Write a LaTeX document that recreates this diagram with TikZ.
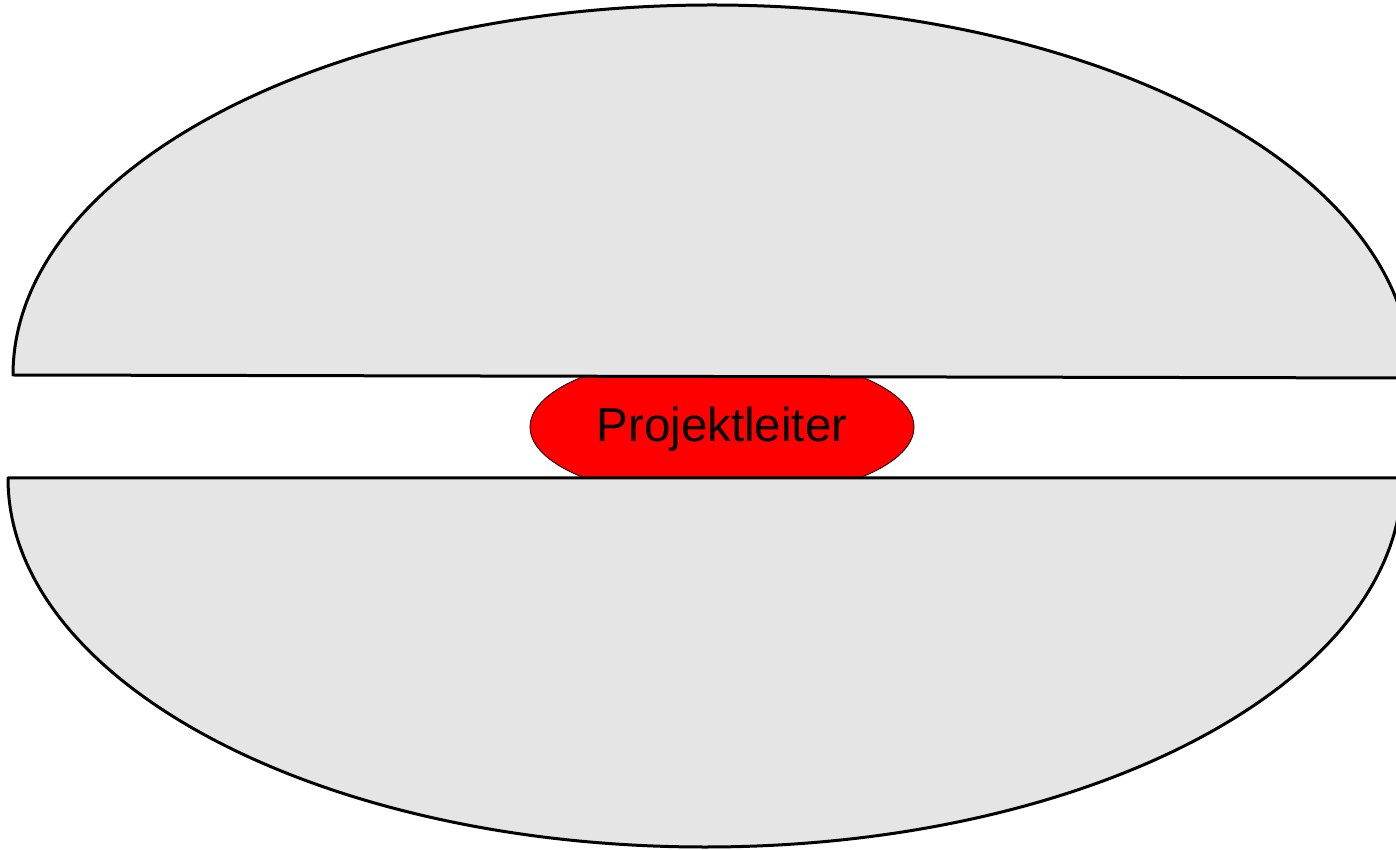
\documentclass[tikz,border=0pt]{standalone}
\usepackage{fontspec}
\setmainfont{Liberation Sans}
\usetikzlibrary{shapes.geometric}
\definecolor{shell}{HTML}{E5E5E5}
\tikzset{
  half/.style={fill=shell, draw=black, line width=3pt, line join=round},
  lead/.style={ellipse, fill=red, draw=black, line width=0.8pt, minimum width=384pt, minimum height=146pt, inner sep=0pt}
}
\begin{document}
\begin{tikzpicture}[x=1pt,y=1pt]
\useasboundingbox (0,0) rectangle (1396,849);
\clip (0,0) rectangle (1396,849);
\node[lead] (pl) at (722,422) {};
\draw[half] (13,474) arc[start angle=180, end angle=0, x radius=699, y radius=370] -- (1411,471) -- cycle;
\draw[half] (8,371) arc[start angle=180, end angle=360, x radius=697, y radius=369] -- cycle;
\node[font=\fontsize{47.5}{52}\selectfont, inner sep=0pt] (plt) at (722,420) {Projektleiter};
\end{tikzpicture}
\end{document}
